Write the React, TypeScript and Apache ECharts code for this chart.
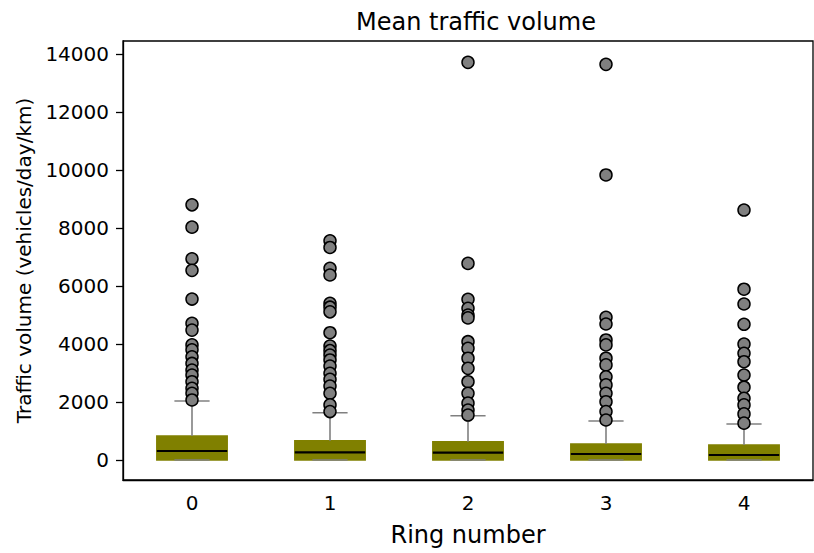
import React, { useEffect, useRef } from 'react';
import * as echarts from 'echarts';

const categories = ['0', '1', '2', '3', '4'];
const lowWhisker = [0, 0, 0, 0, 0];
const q1 = [0, 0, 0, 0, 0];
const medians = [310, 266, 252, 207, 172];
const q3 = [828, 666, 631, 552, 517];
const highWhisker = [2034, 1631, 1528, 1345, 1241];

const outliers0 = [8800, 8030, 6940, 6540, 5550, 4710, 4480, 3970, 3800, 3560, 3330, 3100, 2930, 2700, 2470, 2300, 2070];
const outliers1 = [7560, 7330, 6610, 6380, 5400, 5270, 5110, 4390, 3930, 3770, 3620, 3450, 3240, 2990, 2780, 2550, 2300, 1900, 1670];
const outliers2 = [13714, 6780, 5540, 5230, 5000, 4900, 4080, 3850, 3510, 3160, 2700, 2300, 1960, 1720, 1550];
const outliers3 = [13645, 9830, 4920, 4690, 4140, 3970, 3510, 3280, 2870, 2590, 2300, 2010, 1670, 1380];
const outliers4 = [8620, 5890, 5380, 4680, 4000, 3680, 3390, 2930, 2510, 2130, 1900, 1590, 1270];
const outliers = [outliers0, outliers1, outliers2, outliers3, outliers4];

const yTicks = [0, 2000, 4000, 6000, 8000, 10000, 12000, 14000];

const FONT = 'DejaVu Sans';

export default function App() {
  const ref = useRef<HTMLDivElement>(null);
  useEffect(() => {
    document.body.style.margin = '0';
    const chart = echarts.init(ref.current!, null, { renderer: 'svg' });
    const boxData = categories.map((_, i) => [i, lowWhisker[i], q1[i], medians[i], q3[i], highWhisker[i]]);
    const flierData: number[][] = [];
    outliers.forEach((arr, i) => arr.forEach((v) => flierData.push([i, v])));

    chart.setOption({
      animation: false,
      title: {
        text: 'Mean traffic volume',
        left: 471,
        textAlign: 'center',
        top: 5,
        textStyle: { fontFamily: FONT, fontSize: 24, fontWeight: 'normal', color: '#000' },
      },
      grid: {
        left: 123,
        right: 1,
        top: 41,
        bottom: 73,
        show: true,
        borderColor: '#000',
        borderWidth: 1.3,
        backgroundColor: 'transparent',
      },
      xAxis: {
        type: 'category',
        data: categories,
        boundaryGap: true,
        name: 'Ring number',
        nameLocation: 'middle',
        nameGap: 43,
        nameTextStyle: { fontFamily: FONT, fontSize: 24, color: '#000' },
        axisLine: { onZero: false, lineStyle: { color: '#000', width: 1.3 } },
        axisTick: { alignWithLabel: true, length: 7, lineStyle: { color: '#000', width: 1.3 } },
        axisLabel: { fontFamily: FONT, fontSize: 20, color: '#000', margin: 13 },
        splitLine: { show: false },
      },
      yAxis: {
        type: 'value',
        min: -690,
        max: 14450,
        name: 'Traffic volume (vehicles/day/km)',
        nameLocation: 'middle',
        nameGap: 81,
        nameTextStyle: { fontFamily: FONT, fontSize: 20, color: '#000' },
        axisLine: { show: true, onZero: false, lineStyle: { color: '#000', width: 1.3 } },
        axisTick: { show: true, length: 7, customValues: yTicks, lineStyle: { color: '#000', width: 1.3 } },
        axisLabel: {
          fontFamily: FONT,
          fontSize: 20,
          color: '#000',
          margin: 14,
          customValues: yTicks,
          formatter: (v: number) => String(v),
        },
        splitLine: { show: false },
      },
      series: [
        {
          type: 'custom',
          data: boxData,
          encode: { x: 0, y: [1, 2, 3, 4, 5] },
          renderItem: (params: any, api: any) => {
            const idx = api.value(0);
            const lo = api.value(1);
            const a = api.value(2);
            const m = api.value(3);
            const b = api.value(4);
            const hi = api.value(5);
            const bw = api.size([1, 0])[0] * 0.51;
            const cw = bw / 2;
            const pLo = api.coord([idx, lo]);
            const pA = api.coord([idx, a]);
            const pM = api.coord([idx, m]);
            const pB = api.coord([idx, b]);
            const pHi = api.coord([idx, hi]);
            const x = pA[0];
            const wStyle = { stroke: '#808080', lineWidth: 1.6 };
            return {
              type: 'group',
              children: [
                {
                  type: 'rect',
                  shape: { x: x - bw / 2, y: pB[1], width: bw, height: pA[1] - pB[1] },
                  style: { fill: '#808000', stroke: '#808000', lineWidth: 1.5 },
                },
                { type: 'line', shape: { x1: x, y1: pA[1], x2: x, y2: pLo[1] }, style: wStyle },
                { type: 'line', shape: { x1: x, y1: pB[1], x2: x, y2: pHi[1] }, style: wStyle },
                { type: 'line', shape: { x1: x - cw / 2, y1: pLo[1], x2: x + cw / 2, y2: pLo[1] }, style: wStyle },
                { type: 'line', shape: { x1: x - cw / 2, y1: pHi[1], x2: x + cw / 2, y2: pHi[1] }, style: wStyle },
                {
                  type: 'line',
                  shape: { x1: x - bw / 2, y1: pM[1], x2: x + bw / 2, y2: pM[1] },
                  style: { stroke: '#000', lineWidth: 2.2 },
                },
              ],
            };
          },
          z: 2,
        },
        {
          type: 'scatter',
          data: flierData,
          symbol: 'circle',
          symbolSize: 12,
          itemStyle: { color: '#808080', borderColor: '#000', borderWidth: 1.5, opacity: 1 },
          z: 3,
        },
      ],
    });
    return () => chart.dispose();
  }, []);
  return <div ref={ref} style={{ width: 814, height: 553 }} />;
}
